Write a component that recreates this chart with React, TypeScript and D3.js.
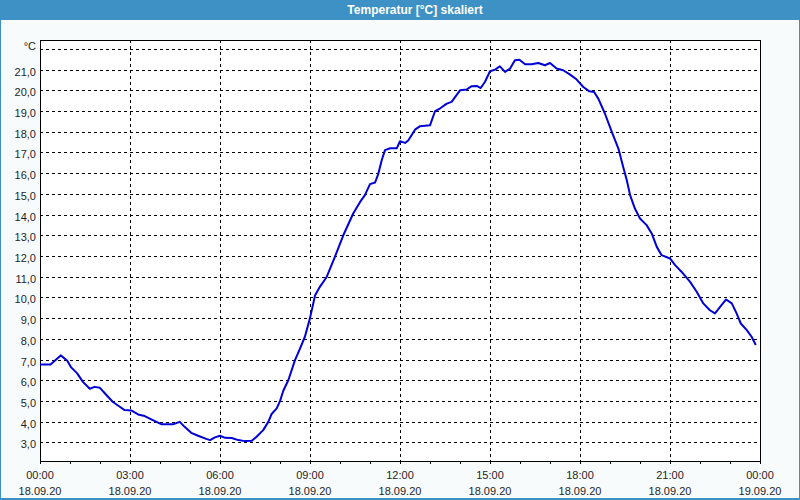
import { useMemo } from "react";
import * as d3 from "d3";

const WIDTH = 800;
const HEIGHT = 500;
const MARGIN = { top: 40, right: 40, bottom: 39, left: 40 };

const TITLE = "Temperatur [°C] skaliert";
const UNIT = "°C";

// hours since 18.09.20 00:00
const hours = [
  0.0, 0.35, 0.69, 0.91, 1.04, 1.24, 1.43, 1.66, 1.82, 1.99, 2.16, 2.43, 2.66, 2.82,
  3.04, 3.27, 3.49, 3.71, 4.04, 4.43, 4.66, 4.82, 5.04, 5.27, 5.54, 5.67, 5.83, 6.0,
  6.17, 6.39, 6.61, 6.83, 7.06, 7.22, 7.44, 7.61, 7.72, 7.89, 8.0, 8.11, 8.28, 8.5,
  8.67, 8.83, 9.0, 9.17, 9.33, 9.56, 9.83, 10.11, 10.44, 10.67, 10.83, 11.0, 11.17,
  11.28, 11.39, 11.5, 11.67, 11.89, 12.0, 12.17, 12.28, 12.5, 12.67, 13.0, 13.17,
  13.33, 13.56, 13.72, 14.0, 14.22, 14.39, 14.56, 14.69, 14.83, 15.0, 15.17, 15.33,
  15.5, 15.67, 15.83, 15.98, 16.17, 16.39, 16.61, 16.83, 17.0, 17.22, 17.44, 17.67,
  17.89, 18.11, 18.31, 18.47, 18.61, 18.83, 19.06, 19.28, 19.44, 19.56, 19.67, 19.83,
  20.0, 20.22, 20.39, 20.56, 20.72, 21.0, 21.17, 21.39, 21.67, 21.89, 22.11, 22.33,
  22.5, 22.67, 22.87, 23.06, 23.22, 23.36, 23.56, 23.72, 23.86,
];

const temps = [
  6.76, 6.76, 7.2, 6.94, 6.62, 6.33, 5.92, 5.59, 5.68, 5.64, 5.37, 4.95, 4.72, 4.56,
  4.54, 4.35, 4.27, 4.11, 3.88, 3.87, 3.99, 3.75, 3.46, 3.32, 3.17, 3.11, 3.24, 3.32,
  3.22, 3.21, 3.11, 3.06, 3.08, 3.27, 3.59, 3.99, 4.37, 4.64, 4.99, 5.49, 6.01, 6.97,
  7.54, 8.1, 9.0, 10.1, 10.51, 11.0, 11.96, 13.0, 14.05, 14.61, 14.94, 15.47, 15.55,
  15.98, 16.62, 17.11, 17.2, 17.2, 17.54, 17.46, 17.59, 18.1, 18.27, 18.31, 19.0,
  19.12, 19.36, 19.44, 20.0, 20.04, 20.2, 20.21, 20.11, 20.4, 20.92, 21.0, 21.16,
  20.89, 21.05, 21.45, 21.48, 21.26, 21.26, 21.32, 21.21, 21.32, 21.05, 20.97, 20.76,
  20.52, 20.16, 19.95, 19.92, 19.6, 18.88, 17.99, 17.19, 16.3, 15.66, 14.94, 14.29,
  13.81, 13.49, 13.09, 12.44, 12.04, 11.88, 11.56, 11.23, 10.75, 10.27, 9.71, 9.38,
  9.23, 9.54, 9.9, 9.71, 9.23, 8.74, 8.42, 8.1, 7.7,
];

const START = new Date(2020, 8, 18, 0, 0);
const END = new Date(2020, 8, 19, 0, 0);
const Y_DOMAIN: [number, number] = [2.1, 22.43];
const Y_TICKS = d3.range(3, 23);

const FONT = "'Liberation Sans', Arial, sans-serif";
const BLUE = "#3d91c4";

const fmtTime = d3.timeFormat("%H:%M");
const fmtDate = d3.timeFormat("%d.%m.%y");
const fmtVal = (v: number) => v.toFixed(1).replace(".", ",");

export default function App() {
  const boundsWidth = WIDTH - MARGIN.left - MARGIN.right;
  const boundsHeight = HEIGHT - MARGIN.top - MARGIN.bottom;

  const data = useMemo(
    () =>
      hours.map((h, i) => ({
        date: new Date(START.getTime() + h * 3600 * 1000),
        value: temps[i],
      })),
    []
  );

  const xScale = d3.scaleTime().domain([START, END]).range([0, boundsWidth]);
  const yScale = d3.scaleLinear().domain(Y_DOMAIN).range([boundsHeight, 0]);

  const majorTicks = xScale.ticks(d3.timeHour.every(3)!);
  const minorTicks = xScale.ticks(d3.timeHour.every(1)!);

  const linePath = d3
    .line<{ date: Date; value: number }>()
    .x((d) => xScale(d.date))
    .y((d) => yScale(d.value))(data);

  return (
    <svg
      width={WIDTH}
      height={HEIGHT}
      style={{ position: "absolute", left: 0, top: 0, display: "block" }}
    >
      {/* panel + title bar */}
      <rect x={0} y={0} width={WIDTH} height={HEIGHT} fill="#f8fbfb" />
      <rect x={0.5} y={0.5} width={WIDTH - 1} height={HEIGHT - 1} fill="none" stroke={BLUE} />
      <line x1={0} x2={WIDTH} y1={HEIGHT - 1} y2={HEIGHT - 1} stroke={BLUE} strokeWidth={2} />
      <rect x={0} y={0} width={WIDTH} height={20} fill={BLUE} />
      <text
        x={415}
        y={14}
        textAnchor="middle"
        fill="#fff"
        fontFamily={FONT}
        fontSize={12}
        fontWeight="bold"
      >
        {TITLE}
      </text>

      <g transform={`translate(${MARGIN.left},${MARGIN.top})`}>
        <rect x={0} y={0} width={boundsWidth} height={boundsHeight} fill="#fff" />

        {/* horizontal grid + y labels */}
        {Y_TICKS.map((t) => {
          const y = Math.round(yScale(t)) + 0.5;
          const isTop = t === Y_TICKS[Y_TICKS.length - 1];
          return (
            <g key={t}>
              <line
                x1={0}
                x2={boundsWidth}
                y1={y}
                y2={y}
                stroke="#000"
                strokeDasharray="3,3"
              />
              <text
                x={-4}
                y={isTop ? y + 0.5 : y + 5.5}
                textAnchor="end"
                fill="#1e1e2a"
                fontFamily={FONT}
                fontSize={11}
              >
                {isTop ? UNIT : fmtVal(t)}
              </text>
            </g>
          );
        })}

        {/* vertical grid */}
        {majorTicks
          .filter((d) => +d !== +START && +d !== +END)
          .map((d, i) => {
            const x = Math.round(xScale(d)) + 0.5;
            return (
              <line
                key={i}
                x1={x}
                x2={x}
                y1={0}
                y2={boundsHeight}
                stroke="#000"
                strokeDasharray="3,3"
              />
            );
          })}

        {/* minor ticks */}
        {minorTicks.map((d, i) => {
          const x = Math.round(xScale(d)) + 0.5;
          return (
            <line key={i} x1={x} x2={x} y1={boundsHeight} y2={boundsHeight + 3} stroke="#000" />
          );
        })}

        {/* x labels */}
        {majorTicks.map((d, i) => {
          const x = xScale(d);
          return (
            <g key={i} fontFamily={FONT} fontSize={11} fill="#1e1e2a" textAnchor="middle">
              <text x={x} y={boundsHeight + 18}>
                {fmtTime(d)}
              </text>
              <text x={x} y={boundsHeight + 34}>
                {fmtDate(d)}
              </text>
            </g>
          );
        })}

        {/* frame */}
        <rect
          x={0.5}
          y={0.5}
          width={boundsWidth}
          height={boundsHeight}
          fill="none"
          stroke="#000"
        />

        <path
          d={linePath ?? ""}
          fill="none"
          stroke="#0000d8"
          strokeWidth={2}
          strokeLinejoin="round"
        />
      </g>
    </svg>
  );
}
